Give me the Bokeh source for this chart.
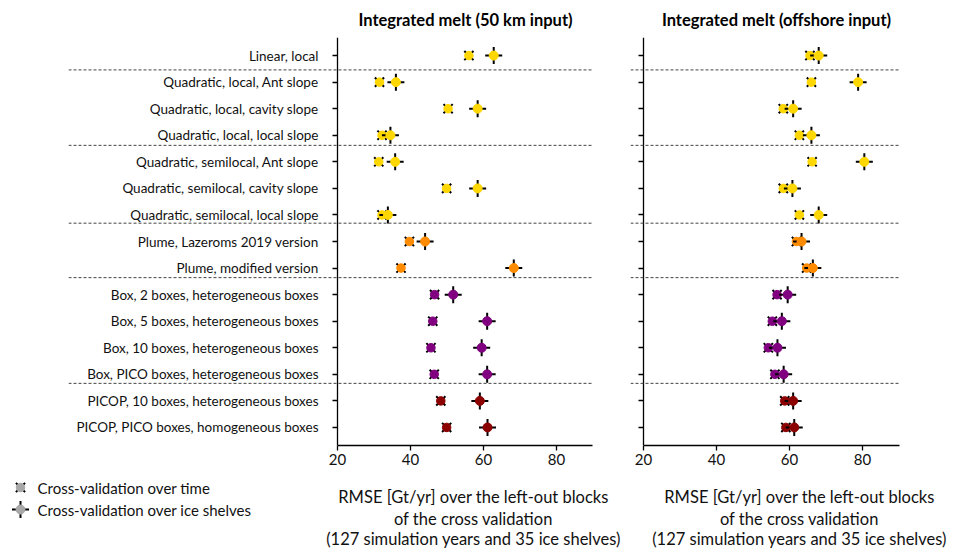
from bokeh.plotting import figure
from bokeh.models import (Range1d, FixedTicker, Span, ColumnDataSource, LinearAxis)
from bokeh.layouts import row, column
from bokeh.core.properties import value
from bokeh.embed import file_html
from bokeh.resources import INLINE

# ---------------- data ----------------
labels = [
    "Linear, local",
    "Quadratic, local, Ant slope",
    "Quadratic, local, cavity slope",
    "Quadratic, local, local slope",
    "Quadratic, semilocal, Ant slope",
    "Quadratic, semilocal, cavity slope",
    "Quadratic, semilocal, local slope",
    "Plume, Lazeroms 2019 version",
    "Plume, modified version",
    "Box, 2 boxes, heterogeneous boxes",
    "Box, 5 boxes, heterogeneous boxes",
    "Box, 10 boxes, heterogeneous boxes",
    "Box, PICO boxes, heterogeneous boxes",
    "PICOP, 10 boxes, heterogeneous boxes",
    "PICOP, PICO boxes, homogeneous boxes",
]
colors = ["#FFD700"] * 7 + ["#FF8C00"] * 2 + ["#800080"] * 4 + ["#8B0000"] * 2

left_time = [56.0, 31.5, 50.3, 32.2, 31.3, 49.9, 32.2, 39.7, 37.4, 46.6, 46.1, 45.6, 46.5, 48.3, 49.9]
left_shelf = [62.8, 36.0, 58.4, 34.5, 35.8, 58.4, 33.8, 44.0, 68.3, 51.7, 61.0, 59.5, 61.0, 59.0, 61.1]
right_time = [65.6, 66.0, 58.3, 62.7, 66.2, 58.3, 62.7, 61.9, 64.7, 56.6, 55.3, 54.2, 56.0, 58.7, 59.0]
right_shelf = [68.0, 78.8, 61.0, 66.0, 80.5, 60.8, 68.0, 63.3, 66.4, 59.5, 57.9, 56.7, 58.4, 61.0, 61.3]

separators = [0.54, 3.38, 6.31, 8.36, 12.34]
x_ticks = [20, 40, 60, 80]
titles = ["Integrated melt (50 km input)", "Integrated melt (offshore input)"]
xlabel_lines = ["RMSE [Gt/yr] over the left-out blocks",
                "of the cross validation",
                "(127 simulation years and 35 ice shelves)"]
legend_labels = ["Cross-validation over time", "Cross-validation over ice shelves"]

FONT = "Lato"
PXU = 3.65          # pixels per data unit
X0, X1 = 20, 90
W = 959
FRAME_H = 408
TOP_H = 37
MID_BOTTOM = 28
BOT_H = 76
SPINE_L, SPINE_R = 337, 643   # page x of the x=20 spines
rows_idx = list(range(len(labels)))
GREY = "#A8A8A8"
XS_STRIP = X0 - SPINE_L / PXU


def px(x_page):
    """page x pixel -> strip data coordinate"""
    return XS_STRIP + x_page / PXU


def strip(height):
    """A bare full-width figure whose x scale matches the left panel."""
    s = figure(frame_width=W, frame_height=height,
               min_border=0, min_border_left=0, min_border_right=0,
               min_border_top=0, min_border_bottom=0,
               x_range=Range1d(XS_STRIP, XS_STRIP + W / PXU), y_range=Range1d(height, 0),
               output_backend="svg", toolbar_location=None,
               x_axis_location=None, y_axis_location=None)
    s.outline_line_color = None
    s.xgrid.visible = False
    s.ygrid.visible = False
    return s


def make_panel(tvals, svals, border_left, spine_off, frame_w, border_right, show_labels):
    xs = X0 - spine_off / PXU
    xe = xs + frame_w / PXU
    p = figure(frame_width=frame_w, frame_height=FRAME_H,
               min_border_left=border_left, min_border_right=border_right,
               min_border_top=0, min_border_bottom=MID_BOTTOM,
               x_range=Range1d(xs, xe), y_range=Range1d(14.68, -0.68),
               output_backend="svg", toolbar_location=None,
               x_axis_location=None, y_axis_location=None)
    p.outline_line_color = None
    p.xgrid.visible = False
    p.ygrid.visible = False

    xa = LinearAxis(ticker=FixedTicker(ticks=x_ticks), bounds=(X0, X1))
    xa.axis_line_color = "black"
    xa.axis_line_width = 1.3
    xa.major_tick_line_color = "black"
    xa.major_tick_line_width = 1.3
    xa.major_tick_out = 5
    xa.major_tick_in = 0
    xa.minor_tick_line_color = None
    xa.major_label_text_font = FONT
    xa.major_label_text_font_size = "15px"
    xa.major_label_text_color = "#111111"
    xa.major_label_standoff = 3
    p.add_layout(xa, "below")

    ya = LinearAxis(ticker=FixedTicker(ticks=rows_idx), fixed_location=X0)
    ya.major_label_overrides = {i: (labels[i] if show_labels else "") for i in rows_idx}
    ya.axis_line_color = "black"
    ya.axis_line_width = 1.3
    ya.major_tick_line_color = "black"
    ya.major_tick_line_width = 1.3
    ya.major_tick_out = 5
    ya.major_tick_in = 0
    ya.minor_tick_line_color = None
    ya.major_label_text_font = FONT
    ya.major_label_text_font_size = "13.5px"
    ya.major_label_text_color = "#111111"
    ya.major_label_standoff = 14
    p.add_layout(ya, "left")

    for s in separators:
        p.add_layout(Span(location=s, dimension="width", line_color="#444444",
                          line_width=1, line_dash="3 2"))

    src_t = ColumnDataSource(dict(x=tvals, y=rows_idx, c=colors))
    src_s = ColumnDataSource(dict(x=svals, y=rows_idx, c=colors))
    p.scatter("x", "y", source=src_t, marker="x", size=13, line_color="black", line_width=2)
    p.scatter("x", "y", source=src_t, marker="circle", size=8.5, fill_color="c", line_color="c")
    p.scatter("x", "y", source=src_s, marker="cross", size=17, line_color="black", line_width=2)
    p.scatter("x", "y", source=src_s, marker="circle", size=9, fill_color="c", line_color="c")
    return p


text_common = dict(text_align="center", text_baseline="middle", text_font=value(FONT))

# ---- titles ----
top = strip(TOP_H)
top.text(x=[px(465), px(776)], y=[19, 19], text=titles, text_font_size="16.5px",
         text_font_style="bold", text_color="black", **text_common)

# ---- panels ----
p1 = make_panel(left_time, left_shelf, 68, SPINE_L - 68, 524, 8, True)
p2 = make_panel(right_time, right_shelf, 30, SPINE_R - 630, 270, 59, False)

# ---- x-axis titles and legend ----
bot = strip(BOT_H)
for c in (px(473), px(799)):
    bot.text(x=[c] * 3, y=[23, 45, 65], text=xlabel_lines, text_font_size="16.5px",
             text_color="#111111", **text_common)

leg_y = [14, 36]
bot.scatter([px(20)], [leg_y[0]], marker="x", size=13, line_color="black", line_width=2)
bot.scatter([px(20)], [leg_y[0]], marker="circle", size=8.5, fill_color=GREY, line_color=GREY)
bot.scatter([px(20)], [leg_y[1]], marker="cross", size=17, line_color="black", line_width=2)
bot.scatter([px(20)], [leg_y[1]], marker="circle", size=9, fill_color=GREY, line_color=GREY)
bot.text(x=[px(37)] * 2, y=leg_y, text=legend_labels, text_align="left",
         text_baseline="middle", text_font=value(FONT), text_font_size="15px",
         text_color="#111111")

layout = column(top, row(p1, p2), bot)
open("out.html", "w").write(file_html(layout, INLINE))
